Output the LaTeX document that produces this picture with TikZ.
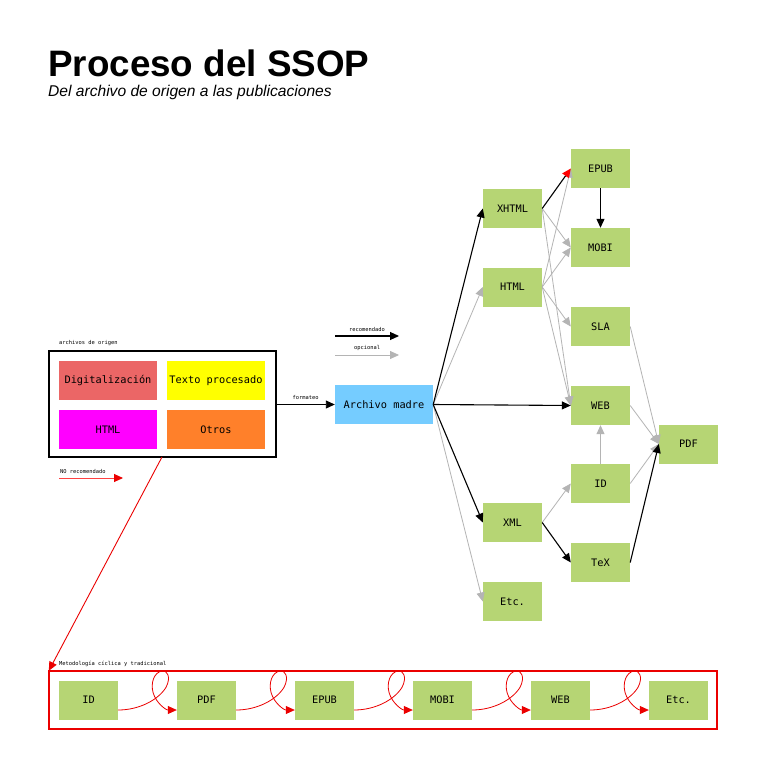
\documentclass[tikz,border=0pt]{standalone}
\usepackage{fontspec}
\setmainfont{Liberation Sans}
\newfontfamily\boxfont{DejaVu Sans Mono}
\usetikzlibrary{arrows.meta}
\definecolor{grn}{RGB}{182,213,116}
\definecolor{skyb}{RGB}{117,204,255}
\definecolor{digred}{RGB}{235,102,102}
\definecolor{orng}{RGB}{255,128,42}
\definecolor{optgray}{RGB}{180,180,180}
\definecolor{pmag}{RGB}{255,0,255}
\definecolor{pyel}{RGB}{255,255,0}
\definecolor{pred}{RGB}{235,0,0}
\tikzset{
  gbox/.style={fill=grn, minimum width=59pt, minimum height=39pt, inner sep=0pt, font=\boxfont\fontsize{10.3}{12}\selectfont},
  sbox/.style={minimum width=98pt, minimum height=39pt, inner sep=0pt, font=\boxfont\fontsize{10.3}{12}\selectfont},
  tiny/.style={font=\boxfont\fontsize{5.4}{6}\selectfont, inner sep=0pt},
  rec/.style={draw=black, line width=1.1pt, -{Triangle[length=9pt,width=8pt]}},
  opt/.style={draw=optgray, line width=0.8pt, -{Triangle[length=9pt,width=8pt]}},
  nor/.style={draw=pred, line width=0.9pt, -{Triangle[length=9pt,width=8pt,color=pred,fill=pred]}},
}
\begin{document}
\begin{tikzpicture}[x=1pt,y=-1pt]
\fill[white] (0,0) rectangle (768,779);
\useasboundingbox (0,0) rectangle (768,779);

% title
\node[anchor=base west, inner sep=0pt, font=\bfseries\fontsize{36.8}{40}\selectfont] (title) at (48,76) {Proceso del SSOP};
\node[anchor=base west, inner sep=0pt, font=\itshape\fontsize{15.6}{18}\selectfont] (subtitle) at (48,96.5) {Del archivo de origen a las publicaciones};

% source files
\node[draw=black, line width=1.2pt, minimum width=227pt, minimum height=106pt, inner sep=0pt] (src) at (162.5,404) {};
\node[tiny, anchor=base west] (srclbl) at (59,344) {archivos de origen};
\node[sbox, fill=digred] (dig) at (108,380.5) {Digitalización};
\node[sbox, fill=pyel] (txt) at (216,380.5) {Texto procesado};
\node[sbox, fill=pmag] (shtml) at (108,429.5) {HTML};
\node[sbox, fill=orng] (otros) at (216,429.5) {Otros};

% archivo madre
\node[sbox, fill=skyb] (madre) at (384,404.5) {Archivo madre};
\draw[rec, line width=0.9pt] (src.east |- madre.west) -- node[tiny, above=4pt] (fmt) {formateo} (madre.west);

% legend
\coordinate (l1a) at (335,336); \coordinate (l1b) at (399,336);
\coordinate (l2a) at (335,355); \coordinate (l2b) at (399,355);
\draw[rec] (l1a) -- (l1b);
\draw[opt] (l2a) -- (l2b);
\node[tiny] (l1t) at (367,329) {recomendado};
\node[tiny] (l2t) at (367,348) {opcional};
\coordinate (l3a) at (59,478); \coordinate (l3b) at (123,478);
\draw[nor, draw=red!75] (l3a) -- (l3b);
\node[tiny, anchor=base west] (l3t) at (60,473) {NO recomendado};

% format nodes
\node[gbox] (xhtml) at (512.5,208.5) {XHTML};
\node[gbox] (html) at (512.5,287) {HTML};
\node[gbox] (xml) at (512.5,522.5) {XML};
\node[gbox] (etc) at (512.5,601.5) {Etc.};
\node[gbox] (epub) at (600.5,168.5) {EPUB};
\node[gbox] (mobi) at (600.5,247.5) {MOBI};
\node[gbox] (sla) at (600.5,326.5) {SLA};
\node[gbox] (web) at (600.5,405.5) {WEB};
\node[gbox] (id) at (600.5,483.5) {ID};
\node[gbox] (tex) at (600.5,562.5) {TeX};
\node[gbox] (pdf) at (688.5,444) {PDF};

% optional connectors
\draw[opt] (madre.east) -- (html.west);
\draw[opt] (madre.east) -- (etc.west);
\draw[opt] (xhtml.east) -- (mobi.west);
\draw[opt] (xhtml.east) -- (web.west);
\draw[opt] (html.east) -- (epub.west);
\draw[opt] (html.east) -- (mobi.west);
\draw[opt] (html.east) -- (sla.west);
\draw[opt] (html.east) -- (web.west);
\draw[opt] (xml.east) -- (id.west);
\draw[opt] (id.north) -- (web.south);
\draw[opt] (sla.east) -- (pdf.west);
\draw[opt] (web.east) -- (pdf.west);
\draw[opt] (id.east) -- (pdf.west);

% recommended connectors
\draw[rec] (madre.east) -- (xhtml.west);
\draw[rec] (madre.east) -- (web.west);
\draw[rec] (madre.east) -- (xml.west);
\draw[rec, -{Triangle[length=9pt,width=8pt,fill=red,color=red]}] (xhtml.east) -- (epub.west);
\draw[rec] (epub.south) -- (mobi.north);
\draw[rec] (xml.east) -- (tex.west);
\draw[rec] (tex.east) -- (pdf.west);

% cyclic methodology
\draw[draw=pred, line width=1.1pt] (49,671) rectangle (717,729);
\node[minimum width=668pt, minimum height=58pt, inner sep=0pt] (cyc) at (383,700) {};
\node[tiny, anchor=base west] (cyclbl) at (59,665) {Metodología cíclica y tradicional};
\coordinate (srcout) at (162,457);
\draw[nor] (srcout) -- (cyc.north west);

\node[gbox] (b1) at (88.5,700) {ID};
\node[gbox] (b2) at (206.5,700) {PDF};
\node[gbox] (b3) at (324.5,700) {EPUB};
\node[gbox] (b4) at (442.5,700) {MOBI};
\node[gbox] (b5) at (560.5,700) {WEB};
\node[gbox] (b6) at (678.5,700) {Etc.};

\foreach \a/\b in {b1/b2,b2/b3,b3/b4,b4/b5,b5/b6}{
  \draw[nor, line width=0.8pt]
    ([yshift=-10pt]\a.east)
      .. controls +(22,0) and +(-7,12) .. ++(48,-23)
      .. controls +(5,-10) and +(5,-1) .. ++(-4,-16)
      .. controls +(-8,1) and +(-3,-10) .. ++(-9,22)
      .. controls +(3,10) and +(-11,0) .. ([yshift=-10pt]\b.west);
}
\end{tikzpicture}
\end{document}
